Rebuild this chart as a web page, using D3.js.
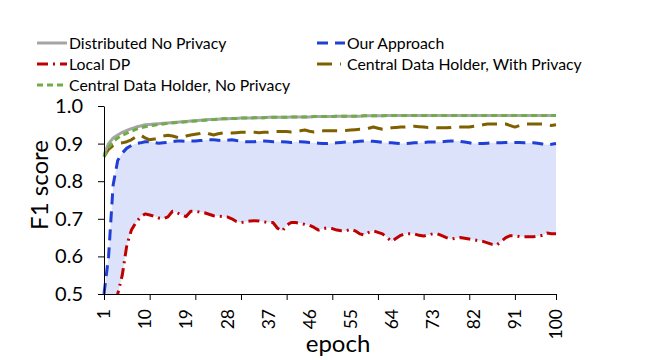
<!DOCTYPE html>
<html>
<head>
<meta charset="utf-8">
<script src="https://cdn.jsdelivr.net/npm/d3@7/dist/d3.min.js"></script>
<style>
  html, body { margin: 0; padding: 0; background: #fff; }
  svg { display: block; font-family: Lato, "Open Sans", sans-serif; }
</style>
</head>
<body>
<svg id="chart" width="669" height="360"></svg>
<script>
// ---- Data ----
const epochs = d3.range(1, 101);
const xTickLabels = [1, 10, 19, 28, 37, 46, 55, 64, 73, 82, 91, 100];
const xTickMarks = [1, 11, 21, 31, 41, 51, 61, 71, 81, 91, 100];
const yTicks = [0.5, 0.6, 0.7, 0.8, 0.9, 1.0];

const distributedNoPrivacy = [
  0.870,0.900,0.915,0.923,0.930,0.935,0.940,0.944,0.947,0.950,
  0.951,0.952,0.953,0.954,0.955,0.956,0.957,0.958,0.959,0.960,
  0.961,0.962,0.963,0.964,0.964,0.965,0.966,0.966,0.967,0.967,
  0.968,0.968,0.968,0.969,0.969,0.969,0.970,0.970,0.970,0.970,
  0.970,0.971,0.971,0.971,0.971,0.971,0.972,0.972,0.972,0.972,
  0.972,0.973,0.973,0.973,0.973,0.973,0.973,0.974,0.974,0.974,
  0.974,0.974,0.975,0.975,0.975,0.975,0.975,0.975,0.975,0.975,
  0.975,0.975,0.975,0.975,0.975,0.975,0.975,0.975,0.975,0.975,
  0.975,0.975,0.975,0.975,0.975,0.975,0.975,0.975,0.975,0.975,
  0.975,0.975,0.975,0.975,0.975,0.975,0.975,0.975,0.975,0.975
];
const centralNoPrivacy = [
  0.865,0.890,0.905,0.915,0.922,0.928,0.933,0.938,0.942,0.945,
  0.947,0.949,0.951,0.952,0.954,0.955,0.956,0.957,0.958,0.959,
  0.960,0.961,0.962,0.963,0.964,0.965,0.966,0.966,0.967,0.967,
  0.968,0.968,0.968,0.969,0.969,0.969,0.970,0.970,0.970,0.970,
  0.970,0.971,0.971,0.971,0.971,0.971,0.972,0.972,0.972,0.972,
  0.972,0.973,0.973,0.973,0.973,0.973,0.973,0.974,0.974,0.974,
  0.974,0.974,0.975,0.975,0.975,0.975,0.975,0.975,0.975,0.975,
  0.975,0.975,0.975,0.975,0.975,0.975,0.975,0.975,0.975,0.975,
  0.975,0.975,0.975,0.975,0.975,0.975,0.975,0.975,0.975,0.975,
  0.975,0.975,0.975,0.975,0.975,0.975,0.975,0.975,0.975,0.975
];
const centralWithPrivacy = [
  0.865,0.885,0.895,0.900,0.902,0.905,0.910,0.918,0.923,0.915,
  0.910,0.912,0.915,0.920,0.922,0.920,0.917,0.915,0.920,0.923,
  0.925,0.927,0.930,0.926,0.923,0.926,0.928,0.928,0.928,0.929,
  0.930,0.930,0.930,0.930,0.929,0.930,0.930,0.932,0.932,0.932,
  0.932,0.931,0.932,0.934,0.936,0.933,0.931,0.933,0.934,0.934,
  0.934,0.934,0.934,0.935,0.936,0.937,0.938,0.938,0.941,0.944,
  0.941,0.938,0.940,0.942,0.943,0.944,0.944,0.946,0.946,0.945,
  0.944,0.943,0.943,0.942,0.942,0.942,0.943,0.944,0.944,0.944,
  0.944,0.946,0.948,0.950,0.952,0.952,0.952,0.952,0.952,0.948,
  0.944,0.948,0.952,0.952,0.952,0.952,0.952,0.950,0.948,0.950
];
const ourApproach = [
  0.500,0.600,0.790,0.855,0.875,0.888,0.895,0.900,0.902,0.905,
  0.905,0.903,0.901,0.902,0.903,0.905,0.907,0.907,0.906,0.907,
  0.907,0.908,0.909,0.910,0.910,0.909,0.908,0.909,0.910,0.908,
  0.906,0.905,0.905,0.905,0.907,0.907,0.906,0.905,0.905,0.905,
  0.904,0.903,0.904,0.905,0.904,0.903,0.902,0.901,0.900,0.900,
  0.901,0.902,0.903,0.904,0.904,0.905,0.906,0.907,0.907,0.906,
  0.905,0.903,0.902,0.902,0.901,0.900,0.900,0.901,0.902,0.902,
  0.903,0.904,0.904,0.904,0.905,0.906,0.907,0.907,0.906,0.904,
  0.902,0.900,0.900,0.900,0.901,0.902,0.902,0.902,0.903,0.903,
  0.903,0.903,0.902,0.902,0.902,0.901,0.899,0.897,0.898,0.900
];
const localDP = [
  0.300,0.380,0.450,0.500,0.550,0.630,0.670,0.690,0.705,0.713,
  0.710,0.707,0.702,0.700,0.705,0.720,0.716,0.710,0.706,0.720,
  0.720,0.718,0.716,0.712,0.708,0.707,0.706,0.705,0.700,0.693,
  0.690,0.692,0.694,0.695,0.694,0.692,0.690,0.690,0.675,0.667,
  0.683,0.690,0.690,0.688,0.685,0.683,0.677,0.670,0.674,0.676,
  0.674,0.670,0.668,0.668,0.672,0.668,0.660,0.657,0.664,0.668,
  0.664,0.660,0.650,0.640,0.648,0.656,0.660,0.660,0.660,0.656,
  0.654,0.657,0.660,0.660,0.655,0.650,0.646,0.648,0.650,0.648,
  0.646,0.644,0.642,0.640,0.636,0.632,0.630,0.640,0.650,0.655,
  0.655,0.653,0.652,0.652,0.652,0.654,0.656,0.662,0.660,0.660
];

const seriesNames = [
  "Distributed No Privacy", "Our Approach", "Local DP",
  "Central Data Holder, With Privacy", "Central Data Holder, No Privacy"
];

// ---- Layout ----
const svg = d3.select("#chart");
const x = d3.scaleLinear().domain([1, 100]).range([104, 556]);
const y = d3.scaleLinear().domain([0.5, 1.0]).range([294, 106]);

svg.append("defs").append("clipPath").attr("id", "plotClip")
  .append("rect").attr("x", 100).attr("y", 95).attr("width", 470).attr("height", 199);

const plot = svg.append("g").attr("clip-path", "url(#plotClip)");

// shaded band between Local DP and Our Approach
const band = d3.area()
  .x((d, i) => x(epochs[i]))
  .y0((d, i) => y(Math.max(localDP[i], 0.5)))
  .y1((d, i) => y(ourApproach[i]));
plot.append("path").datum(ourApproach).attr("d", band).attr("fill", "#dce2fa");

const line = d3.line().x((d, i) => x(epochs[i])).y(d => y(d));

const styles = [
  { data: distributedNoPrivacy, color: "#a5a5a5", dash: null },
  { data: ourApproach, color: "#1f3fd6", dash: "11,7" },
  { data: localDP, color: "#c00000", dash: "11,5,2,5" },
  { data: centralWithPrivacy, color: "#7f6000", dash: "15,8" },
  { data: centralNoPrivacy, color: "#70ad47", dash: "6,4" }
];
const drawOrder = [2, 1, 3, 0, 4];
drawOrder.forEach(k => {
  const s = styles[k];
  plot.append("path").datum(s.data)
    .attr("d", line)
    .attr("fill", "none")
    .attr("stroke", s.color)
    .attr("stroke-width", 3)
    .attr("stroke-linejoin", "round")
    .attr("stroke-dasharray", s.dash);
});

// ---- Axes ----
const axisColor = "#000";
const yAxis = svg.append("g").attr("transform", "translate(104,0)")
  .call(d3.axisLeft(y).tickValues(yTicks).tickFormat(d3.format(".1f")).tickSize(6).tickSizeOuter(0));
yAxis.select(".domain").attr("stroke", axisColor);
yAxis.selectAll(".tick line").attr("stroke", axisColor);
yAxis.selectAll(".tick text").attr("font-size", 20).attr("fill", "#000")
  .attr("font-family", "Lato, sans-serif").attr("x", -21);

const xAxis = svg.append("g").attr("transform", "translate(0,294)")
  .call(d3.axisBottom(x).tickValues(xTickMarks).tickFormat("").tickSize(6).tickSizeOuter(0));
xAxis.select(".domain").attr("stroke", axisColor);
xAxis.selectAll(".tick line").attr("stroke", axisColor);

svg.append("g").selectAll("text").data(xTickLabels).join("text")
  .attr("transform", d => `translate(${x(d)},309) rotate(-90)`)
  .attr("text-anchor", "end")
  .attr("dy", "0.36em")
  .attr("font-size", 17.5)
  .attr("fill", "#000")
  .text(d => d);

svg.append("text")
  .attr("transform", "translate(40,185) rotate(-90)")
  .attr("text-anchor", "middle")
  .attr("dy", "0.35em")
  .attr("font-size", 24)
  .attr("fill", "#000")
  .text("F1 score");

svg.append("text")
  .attr("x", 338).attr("y", 352)
  .attr("text-anchor", "middle")
  .attr("font-size", 24)
  .attr("fill", "#000")
  .text("epoch");

// ---- Legend ----
const legendItems = [
  { k: 0, x1: 37, x2: 67, tx: 69, y: 43 },
  { k: 1, x1: 317, x2: 345, tx: 347, y: 43 },
  { k: 2, x1: 37, x2: 67, tx: 69, y: 64 },
  { k: 3, x1: 317, x2: 341, tx: 347, y: 64 },
  { k: 4, x1: 37, x2: 67, tx: 69, y: 85 }
];
const leg = svg.append("g");
legendItems.forEach(it => {
  const s = styles[it.k];
  leg.append("line")
    .attr("x1", it.x1).attr("x2", it.x2).attr("y1", it.y).attr("y2", it.y)
    .attr("stroke", s.color).attr("stroke-width", 3)
    .attr("stroke-dasharray", s.dash);
  leg.append("text")
    .attr("x", it.tx).attr("y", it.y).attr("dy", "0.35em")
    .attr("font-size", 15.8).attr("fill", "#000")
    .text(seriesNames[it.k]);
});
</script>
</body>
</html>
